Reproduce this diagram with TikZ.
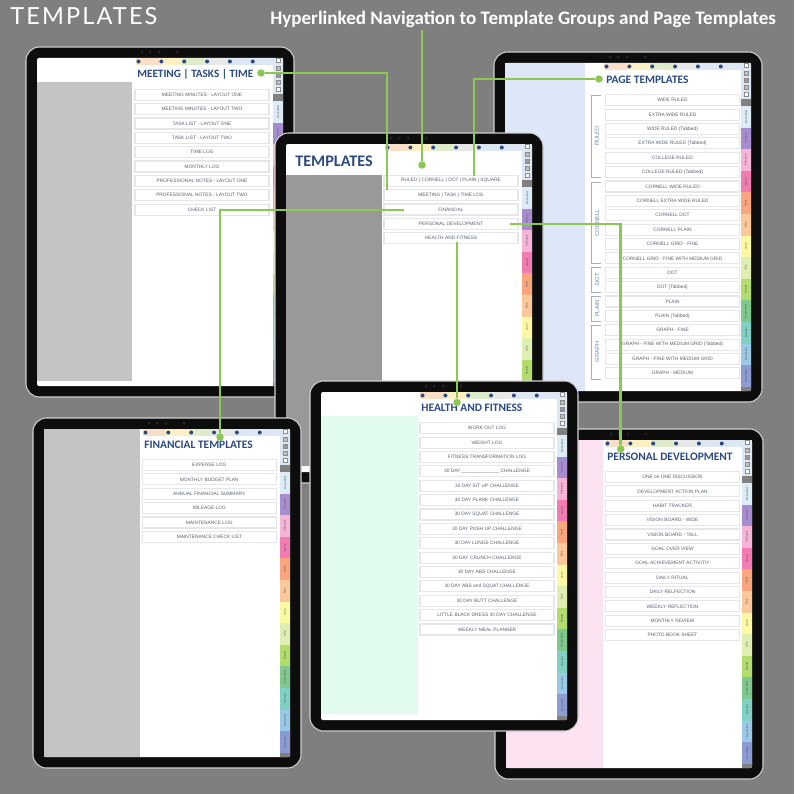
\documentclass[tikz,border=0pt]{standalone}
\usepackage{fontspec}
\setmainfont{Liberation Sans}
\newfontfamily\titlefont{Carlito}
\newfontfamily\logofont[LetterSpace=9]{Lato}
\definecolor{backdrop}{HTML}{7F7F7F}
\definecolor{linkgreen}{HTML}{8CC653}
\definecolor{titleblue}{HTML}{2B4A80}
\definecolor{bracketgray}{HTML}{A4AEBE}
\definecolor{groupblue}{HTML}{7088B4}
\definecolor{btntext}{HTML}{566074}
\definecolor{btnline}{HTML}{E4E6EA}
\definecolor{strippeach}{HTML}{F9DFC8}
\definecolor{stripyellow}{HTML}{FDF0C4}
\definecolor{stripgreen}{HTML}{DFECCB}
\definecolor{stripgray}{HTML}{E8E8E8}
\definecolor{stripblue}{HTML}{DDE6F3}
\definecolor{panelblue}{HTML}{DDE7F8}
\definecolor{panelpink}{HTML}{FDE3F1}
\definecolor{panelgreen}{HTML}{E2FBEF}
\definecolor{tabdeca}{HTML}{DCECF7}
\definecolor{tabjan}{HTML}{A88CD0}
\definecolor{tabfeb}{HTML}{F6B4D8}
\definecolor{tabmar}{HTML}{F27CB2}
\definecolor{tabapr}{HTML}{F9A67E}
\definecolor{tabmay}{HTML}{FBC89C}
\definecolor{tabjun}{HTML}{FDF8A2}
\definecolor{tabjul}{HTML}{DFEEB2}
\definecolor{tabaug}{HTML}{B2DC6C}
\definecolor{tabsep}{HTML}{80C98C}
\definecolor{taboct}{HTML}{80D0C4}
\definecolor{tabnov}{HTML}{9AC9E8}
\definecolor{tabdecb}{HTML}{8C9BD3}
\tikzset{
  btn/.style={draw=btnline, line width=0.65pt, fill=white, minimum width=2.68cm, minimum height=0.22cm,
    inner sep=0pt, text=btntext, font=\fontsize{2.75}{3}\selectfont},
  paneltitle/.style={anchor=west, inner sep=0pt, text=titleblue, font=\titlefont\bfseries\fontsize{6.5}{8}\selectfont},
  monthlabel/.style={rotate=90, inner sep=0pt, text=black!65, font=\fontsize{1.6}{2}\selectfont},
  grouplabel/.style={rotate=90, inner sep=0pt, text=groupblue, font=\fontsize{3.3}{4}\selectfont},
  bracket/.style={draw=bracketgray, line width=0.5pt},
  link/.style={draw=linkgreen, line width=1.4pt},
  linkdot/.style={circle, fill=linkgreen, inner sep=0pt, minimum size=0.15cm}
}
% one tablet: name, left, top
\newcommand{\tablet}[3]{
\begin{scope}[shift={(#2,#3)}]
\draw [fill=black!95, draw=black!18, line width=0.6pt, rounded corners=0.27cm] (0,0) rectangle (268,350);
\fill [white, rounded corners=0.04cm] (11,11) rectangle (257,339);
\foreach \cx in {116,124,133,151} \fill [black!85] (\cx,5) circle (0.03cm);
% date strip
\foreach \col [count=\i] in {strippeach,stripyellow,stripgreen,stripgray,stripblue,stripblue}
  \fill [\col] ({110+(\i-1)*22.9},11) rectangle ({110+\i*22.9},18);
\foreach \i in {0,...,5} \fill [titleblue] ({112.5+\i*22.85},14.5) circle (0.04cm);
% icon column
\fill [stripblue] (247,11) rectangle (257,47);
\fill [black!50] (247,47) rectangle (257,54);
\foreach \iy/\col in {13/white,21/black!25,28/black!40,35/black!25,42/white}
  \draw [black!45, fill=\col, line width=0.15pt] (250,\iy-1.8) rectangle (254,\iy+1.8);
% month tabs
\foreach \mon/\col [count=\i] in {December/tabdeca,January/tabjan,February/tabfeb,March/tabmar,April/tabapr,May/tabmay,June/tabjun,July/tabjul,August/tabaug,September/tabsep,October/taboct,November/tabnov,December/tabdecb}{
  \fill [\col] (247,{54+(\i-1)*21.6}) rectangle (257,{54+\i*21.6});
  \node [monthlabel] (#1tab\i) at (252,{54+(\i-0.5)*21.6}) {\mon};
}
\fill [black!50] (247,334.8) rectangle (257,339);
\end{scope}
}
% list of page buttons: prefix, left, first centre, texts
\newcommand{\buttons}[4]{
\foreach \txt [count=\i] in {#4}
  \node [btn] (#1\i) at (#2+67,{#3+(\i-1)*14.37}) {\txt};
}
\begin{document}
\begin{tikzpicture}[x=0.02cm, y=-0.02cm]
\useasboundingbox (0,0) rectangle (794,794);
\fill [backdrop] (0,0) rectangle (794,794);

\node [anchor=west, inner sep=0pt, text=white, font=\logofont\fontsize{13.4}{15}\selectfont] (logo) at (10,16.5) {TEMPLATES};
\node [anchor=west, inner sep=0pt, text=white, font=\titlefont\bfseries\fontsize{10.85}{12}\selectfont] (headline) at (270,19) {Hyperlinked Navigation to Template Groups and Page Templates};

% meeting tablet
\tablet{meet}{26}{47}
\fill [black!23] (37,82) rectangle (132,381);
\node [paneltitle, font=\titlefont\bfseries\fontsize{6.35}{8}\selectfont] (meettitle) at (137,74) {MEETING | TASKS | TIME};
\buttons{meet}{135}{94.7}{MEETING MINUTES - LAYOUT ONE,MEETING MINUTES - LAYOUT TWO,TASK LIST - LAYOUT ONE,TASK LIST - LAYOUT TWO,TIME LOG,MONTHLY LOG,PROFESSIONAL NOTES - LAYOUT ONE,PROFESSIONAL NOTES - LAYOUT TWO,CHECK LIST}

% page templates tablet
\tablet{page}{494}{52}
\fill [panelblue] (505,63) rectangle (585,391);
\node [paneltitle] (pagetitle) at (606,80) {PAGE TEMPLATES};
\buttons{page}{605.5}{100.3}{WIDE RULED,EXTRA WIDE RULED,WIDE RULED (Tabbed),EXTRA WIDE RULED (Tabbed),COLLEGE RULED,COLLEGE RULED (Tabbed),CORNELL WIDE RULED,CORNELL EXTRA WIDE RULED,CORNELL DOT,CORNELL PLAIN,CORNELL GRID - FINE,CORNELL GRID - FINE WITH MEDIUM GRID,DOT,DOT (Tabbed),PLAIN,PLAIN (Tabbed),GRAPH - FINE,GRAPH - FINE WITH MEDIUM GRID (Tabbed),GRAPH - FINE WITH MEDIUM GRID,GRAPH - MEDIUM}
\foreach \grp/\ya/\yb in {RULED/95/177,CORNELL/182/263,DOT/267/292,PLAIN/296/321,GRAPH/325/379}{
  \draw [bracket] (601,\ya) -- (591,\ya) -- (591,\yb) -- (601,\yb);
  \node [grouplabel] (group\grp) at (597,{(\ya+\yb)/2}) {\grp};
}

% templates tablet
\tablet{main}{275}{133}
\fill [black!40] (286,175) rectangle (382,466);
\node [paneltitle, font=\titlefont\bfseries\fontsize{9.2}{10}\selectfont] (maintitle) at (295,161) {TEMPLATES};
\buttons{main}{384}{180.7}{RULED | CORNELL | DOT | PLAIN | SQUARE,MEETING | TASK | TIME LOG,FINANCIAL,PERSONAL DEVELOPMENT,HEALTH AND FITNESS}

% financial tablet
\tablet{fin}{33}{418}
\fill [black!23] (44,429) rectangle (140,757);
\node [paneltitle] (fintitle) at (144,445) {FINANCIAL TEMPLATES};
\buttons{fin}{142.3}{465}{EXPENSE LOG,MONTHLY BUDGET PLAN,ANNUAL FINANCIAL SUMMARY,MILEAGE LOG,MAINTENANCE LOG,MAINTENANCE CHECK LIST}

% personal tablet
\tablet{dev}{495}{429}
\fill [panelpink] (506,440) rectangle (603,768);
\node [paneltitle] (devtitle) at (607,457) {PERSONAL DEVELOPMENT};
\buttons{dev}{605.5}{477}{ONE on ONE DISCUSSION,DEVELOPMENT ACTION PLAN,HABIT TRACKER,VISION BOARD - WIDE,VISION BOARD - TALL,GOAL OVER VIEW,GOAL ACHIEVEMENT ACTIVITIY,DAILY RITUAL,DAILY RELFECTION,WEEKLY REFLECTION,MONTHLY REVIEW,PHOTO BOOK SHEET}

% health tablet
\tablet{fit}{310}{381}
\fill [panelgreen] (321,416) rectangle (418,714);
\node [paneltitle] (fittitle) at (421,408) {HEALTH AND FITNESS};
\buttons{fit}{420}{428.3}{WORK OUT LOG,WEIGHT LOG,FITNESS TRANSFORMATION LOG,30 DAY \_\_\_\_\_\_\_\_\_\_\_\_\_\_ CHALLENGE,30 DAY SIT UP CHALLENGE,30 DAY PLANK CHALLENGE,30 DAY SQUAT CHALLENGE,30 DAY PUSH UP CHALLENGE,30 DAY LUNGE CHALLENGE,30 DAY CRUNCH CHALLENGE,30 DAY ABS CHALLENGE,30 DAY ABS and SQUAT CHALLENGE,30 DAY BUTT CHALLENGE,LITTLE BLACK DRESS 30 DAY CHALLENGE,WEEKLY MEAL PLANNER}

% links
\node [linkdot] (navdot) at (422,165) {};
\node [linkdot] (meetdot) at (261,73) {};
\node [linkdot] (pagedot) at (599,79) {};
\node [linkdot] (findot) at (220,437) {};
\node [linkdot] (devdot) at (620.7,449) {};
\node [linkdot] (fitdot) at (457,402.5) {};
\coordinate (headfoot) at (422,30);
\coordinate (meetend) at (387,190);
\coordinate (pageend) at (474,176);
\coordinate (finstart) at (404,210);
\coordinate (devstart) at (510,224);
\coordinate (fitstart) at (457,242);
\draw [link] (headfoot) -- (navdot);
\draw [link] (meetdot) -| (meetend);
\draw [link] (pagedot) -| (pageend);
\draw [link] (finstart) -| (findot);
\draw [link] (devstart) -| (devdot);
\draw [link] (fitstart) -- (fitdot);
\end{tikzpicture}
\end{document}
